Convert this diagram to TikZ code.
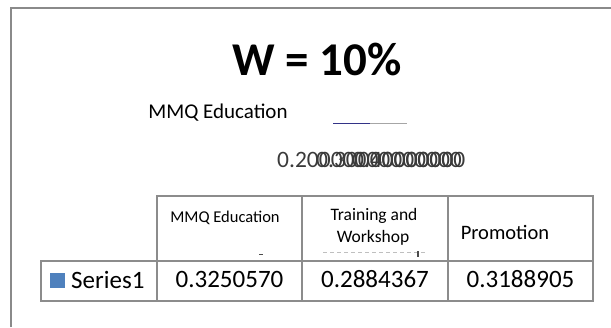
\documentclass[tikz,border=0pt]{standalone}
\usepackage{fontspec}
\setmainfont{Carlito}
\usepackage{tikz}

\definecolor{framegray}{HTML}{8A8A8A}
\definecolor{gridgray}{HTML}{8C8C8C}
\definecolor{seriesblue}{HTML}{4F81BD}
\definecolor{textgray}{HTML}{3A3A3A}

\begin{document}
\begin{tikzpicture}[x=1pt,y=-1pt,
	grid/.style={draw=gridgray, line width=2pt},
	cell/.style={anchor=base, inner sep=0pt, text=black},
	axis/.style={anchor=base west, inner sep=0pt, text=textgray, font=\fontsize{23.5}{24}\selectfont}]
\useasboundingbox (0,0) rectangle (611,327);
% outer frame
\draw[framegray, line width=2.4pt] (11,327) -- (11,8) -- (611,8);
% title and legend
\node[cell, font=\fontsize{47}{50}\selectfont\bfseries] (title) at (317,75) {W = 10\%};
\node[cell, font=\fontsize{21}{24}\selectfont] (legend) at (218,118) {MMQ Education};
\draw[color=black!45!blue!60!gray, line width=1pt] (333,123) -- (370,123);
\draw[gray!70, line width=0.8pt] (370,123) -- (407,123);
% overlapping axis labels
\node[axis] (tickA) at (277,167) {0.20000000000000};
\node[axis] (tickB) at (316,167) {0.3000000000};
\node[axis] (tickC) at (352,167) {0.40000000};
% data table
\draw[grid] (157,261) -- (157,196) -- (593,196) -- (593,301) -- (41,301) -- (41,261) -- (593,261);
\foreach \x in {302,448}
	\draw[grid] (\x,196) -- (\x,301);
\draw[grid] (157,261) -- (157,301);
\node[cell, font=\fontsize{16.5}{18}\selectfont] (headA) at (225,222) {MMQ Education};
\node[cell, font=\fontsize{17.5}{18}\selectfont] (headB) at (374,220) {Training and};
\node[cell, font=\fontsize{17.5}{18}\selectfont] (headC) at (373,242) {Workshop};
\node[cell, font=\fontsize{20.5}{22}\selectfont] (headD) at (505,239) {Promotion};
\draw[black!70, line width=1pt] (259,254) -- (263,254);
\draw[gray!50, line width=1pt, dash pattern=on 4pt off 3pt] (323,252) -- (425,252);
\draw[black!70, line width=1.5pt] (418,251) -- (418,257);
\fill[seriesblue] (50,273) rectangle (65,288);
\node[cell, anchor=base west, font=\fontsize{25}{26}\selectfont] (series) at (71,288) {Series1};
\node[cell, font=\fontsize{25}{26}\selectfont] (valA) at (229.5,287) {0.3250570};
\node[cell, font=\fontsize{25}{26}\selectfont] (valB) at (375,287) {0.2884367};
\node[cell, font=\fontsize{25}{26}\selectfont] (valC) at (520.5,287) {0.3188905};
\end{tikzpicture}
\end{document}
